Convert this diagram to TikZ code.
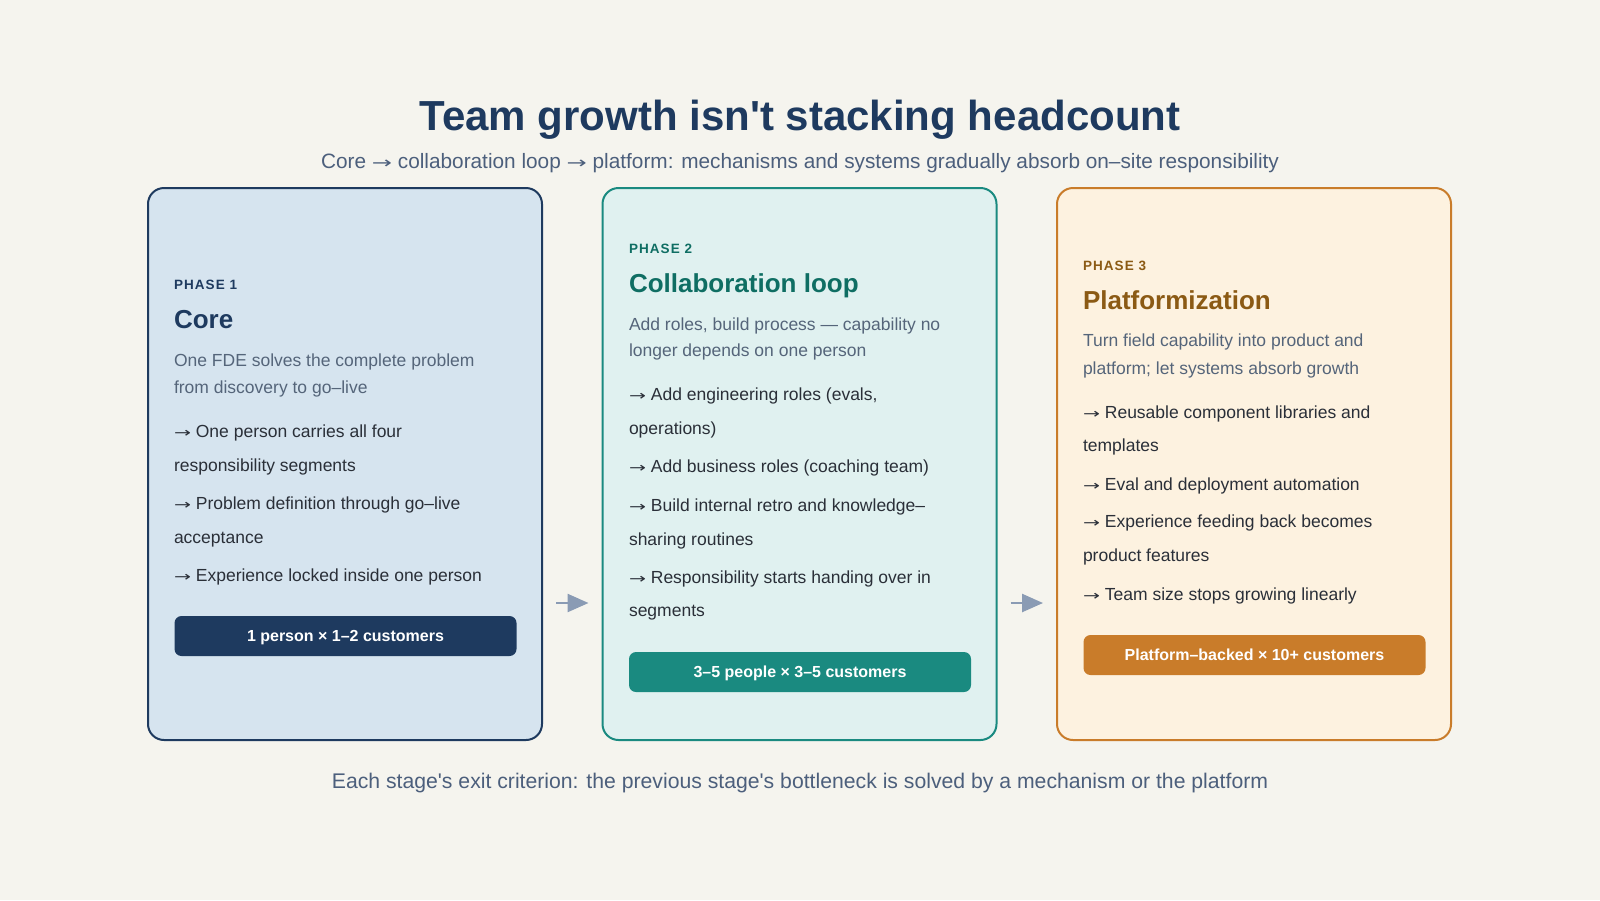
\documentclass[tikz,border=0pt]{standalone}
\usepackage{fontspec}
\setmainfont{Liberation Sans}[Ligatures=TeXOff]
\newfontfamily\arrfont{DejaVu Sans}
\usetikzlibrary{arrows.meta}
\definecolor{bg}{HTML}{F5F4EE}
\definecolor{navy}{HTML}{1E3A5F}
\definecolor{subc}{HTML}{4C5F7C}
\definecolor{descc}{HTML}{55657A}
\definecolor{bodyc}{HTML}{2A2F38}
\definecolor{arrowc}{HTML}{8A9BB4}
\definecolor{fillA}{HTML}{D6E4EF}
\definecolor{fillB}{HTML}{E0F1F0}
\definecolor{lineB}{HTML}{1A8A80}
\definecolor{headB}{HTML}{0F6E63}
\definecolor{fillC}{HTML}{FDF2E0}
\definecolor{lineC}{HTML}{C97C2A}
\definecolor{headC}{HTML}{8B5A14}
\newcommand\myarr{{\arrfont\scalebox{1.16}[0.78]{→}}}
\begin{document}
\begin{tikzpicture}[x=1pt,y=-1pt,
  tl/.style={anchor=base west, inner sep=0pt, outer sep=0pt},
  phase/.style={tl, font=\fontsize{13.5}{16}\selectfont\bfseries\addfontfeatures{LetterSpace=8}},
  head/.style={tl, font=\fontsize{26}{30}\selectfont\bfseries},
  desc/.style={tl, font=\fontsize{17.5}{20}\selectfont, text=descc},
  item/.style={tl, font=\fontsize{17.5}{20}\selectfont, text=bodyc},
  pill/.style={rounded corners=7pt, minimum width=342pt, minimum height=40pt, inner sep=0pt, text height=11.5pt, text depth=0pt, font=\fontsize{16}{18}\selectfont\bfseries, text=white},
  card/.style={rounded corners=16pt, line width=2pt, minimum width=394pt, minimum height=552pt, inner sep=0pt, outer sep=0pt},
  flow/.style={draw=arrowc, line width=2.5pt, -{Triangle[length=21pt,width=18pt]}, shorten <=14pt, shorten >=14pt}
]
\useasboundingbox (0,0) rectangle (1600,900);
\fill[bg] (0,0) rectangle (1600,900);

% title
\node[anchor=base, inner sep=0pt, text=navy, font=\fontsize{42}{48}\selectfont\bfseries] (title) at (800,130) {Team growth isn't stacking headcount};
\node[anchor=base, inner sep=0pt, text=subc, font=\fontsize{20.8}{24}\selectfont] (sub) at (800,168.3) {Core \myarr{} collaboration loop \myarr{} platform: mechanisms and systems gradually absorb on–site responsibility};

% cards
\node[card, draw=navy, fill=fillA] (c1) at (345,464) {};
\node[card, draw=lineB, fill=fillB] (c2) at (799.5,464) {};
\node[card, draw=lineC, fill=fillC] (c3) at (1254,464) {};

% card 1
\node[phase, text=navy] (ph1) at (174,289.3) {PHASE 1};
\node[head, text=navy] (hd1) at (174,328.3) {Core};
\node[desc] (d1a) at (174,366.7) {One FDE solves the complete problem};
\node[desc] (d1b) at (174,393.3) {from discovery to go–live};
\node[item] (b1a) at (174,437.3) {\myarr{} One person carries all four};
\node[item] (b1b) at (174,471.7) {responsibility segments};
\node[item] (b1c) at (174,509.3) {\myarr{} Problem definition through go–live};
\node[item] (b1d) at (174,543.3) {acceptance};
\node[item] (b1e) at (174,581.7) {\myarr{} Experience locked inside one person};
\node[pill, fill=navy] (pl1) at (345.5,636) {1 person × 1–2 customers};

% card 2
\node[phase, text=headB] (ph2) at (629,253.3) {PHASE 2};
\node[head, text=headB] (hd2) at (629,292.7) {Collaboration loop};
\node[desc] (d2a) at (629,330) {Add roles, build process — capability no};
\node[desc] (d2b) at (629,356.7) {longer depends on one person};
\node[item] (b2a) at (629,400.7) {\myarr{} Add engineering roles (evals,};
\node[item] (b2b) at (629,434) {operations)};
\node[item] (b2c) at (629,472.7) {\myarr{} Add business roles (coaching team)};
\node[item] (b2d) at (629,511.7) {\myarr{} Build internal retro and knowledge–};
\node[item] (b2e) at (629,545) {sharing routines};
\node[item] (b2f) at (629,583.3) {\myarr{} Responsibility starts handing over in};
\node[item] (b2g) at (629,616.7) {segments};
\node[pill, fill=lineB] (pl2) at (800,672) {3–5 people × 3–5 customers};

% card 3
\node[phase, text=headC] (ph3) at (1083,270.7) {PHASE 3};
\node[head, text=headC] (hd3) at (1083,309.3) {Platformization};
\node[desc] (d3a) at (1083,346.7) {Turn field capability into product and};
\node[desc] (d3b) at (1083,374) {platform; let systems absorb growth};
\node[item] (b3a) at (1083,418.3) {\myarr{} Reusable component libraries and};
\node[item] (b3b) at (1083,451.7) {templates};
\node[item] (b3c) at (1083,490) {\myarr{} Eval and deployment automation};
\node[item] (b3d) at (1083,527.7) {\myarr{} Experience feeding back becomes};
\node[item] (b3e) at (1083,561.7) {product features};
\node[item] (b3f) at (1083,600) {\myarr{} Team size stops growing linearly};
\node[pill, fill=lineC] (pl3) at (1254.5,655) {Platform–backed × 10+ customers};

% arrows
\draw[flow] ([yshift=-139pt]c1.east) -- ([yshift=-139pt]c2.west);
\draw[flow] ([yshift=-139pt]c2.east) -- ([yshift=-139pt]c3.west);

% caption
\node[anchor=base, inner sep=0pt, text=subc, font=\fontsize{21.2}{24}\selectfont] (cap) at (800,788.3) {Each stage's exit criterion: the previous stage's bottleneck is solved by a mechanism or the platform};
\end{tikzpicture}
\end{document}
